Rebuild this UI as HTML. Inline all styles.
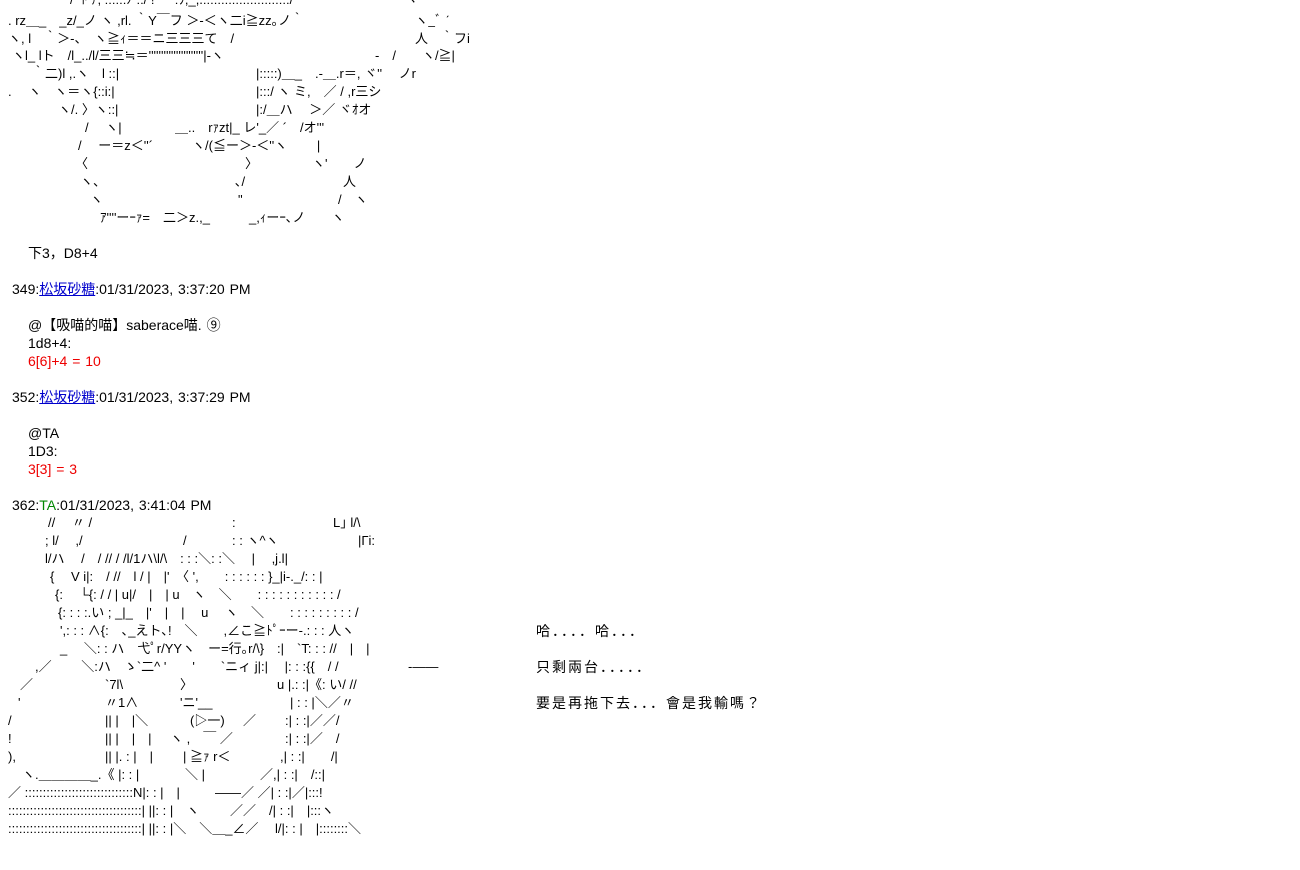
<!DOCTYPE html>
<html><head><meta charset="utf-8"><style>
html,body{margin:0;padding:0;background:#fff;width:1300px;height:870px;overflow:hidden}
body{position:relative;font-family:"Liberation Sans","Noto Sans CJK JP",sans-serif;font-size:14px;color:#000}
.l{position:absolute;white-space:pre;line-height:18px;height:18px}
.a{font-size:13px;letter-spacing:0px}
.t{word-spacing:1px}
.d{letter-spacing:2px}
a{color:#0000cc;text-decoration:underline}
.r{color:#e00}
.g{color:#080}
</style></head><body>
<!-- top art -->
<div class="l a" style="left:70px;top:-9px">/  ﾄ ｱ, ::::::ﾉ ::/ ! ｀ :ﾌ,_,.::::::::::::::::::::::::/</div>
<div class="l a" style="left:405px;top:-9px">ヽ</div>
<div class="l a" style="left:8px;top:12px">. rz＿_　_z/_ノ ヽ ,rl. ｀Y￣フ ＞-＜ヽ二i≧zz｡ノ｀</div>
<div class="l a" style="left:415px;top:12px">ヽ_ﾞ ˊ</div>
<div class="l a" style="left:8px;top:30px">ヽ, l　｀＞-、　ヽ≧ｨ＝＝ニ三三三て　/</div>
<div class="l a" style="left:415px;top:30px">人　｀フi</div>
<div class="l a" style="left:12px;top:47px">ヽl_ lト　/l_../l/三三≒＝''''''''''''''''''''''|-ヽ</div>
<div class="l a" style="left:375px;top:47px">-　/　　ヽ/≧|</div>
<div class="l a" style="left:32px;top:65px">｀二)l ,.ヽ　l ::|</div>
<div class="l a" style="left:256px;top:65px">|:::::)＿_　.-＿.r＝, ヾ''　 ノr</div>
<div class="l a" style="left:8px;top:83px">.　 ヽ　ヽ＝ヽ{::i:|</div>
<div class="l a" style="left:256px;top:83px">|:::/ ヽ ミ,　／ / ,r三シ</div>
<div class="l a" style="left:58px;top:101px">ヽ/. 〉ヽ::|</div>
<div class="l a" style="left:256px;top:101px">|:/＿ハ　 ＞／ ヾｵオ</div>
<div class="l a" style="left:85px;top:119px">/　 ヽ|</div>
<div class="l a" style="left:175px;top:119px">＿..　rｧzt|_ レ'_／ ´　/オ'''</div>
<div class="l a" style="left:78px;top:137px">/　 ー＝z＜''´　　　ヽ/(≦ー＞-＜''ヽ　　 |</div>
<div class="l a" style="left:75px;top:155px">〈</div>
<div class="l a" style="left:245px;top:155px">〉</div>
<div class="l a" style="left:312px;top:155px">ヽ'　　ノ</div>
<div class="l a" style="left:80px;top:173px">ヽ、</div>
<div class="l a" style="left:235px;top:173px">､/</div>
<div class="l a" style="left:343px;top:173px">人</div>
<div class="l a" style="left:90px;top:191px">ヽ</div>
<div class="l a" style="left:238px;top:191px">"</div>
<div class="l a" style="left:338px;top:191px">/　ヽ</div>
<div class="l a" style="left:100px;top:209px">ｱ''''ーｰｧ=　二＞z.,_　　　_,ｨーｰ､ノ　　ヽ</div>

<div class="l t" style="left:28px;top:244px">下3，D8+4</div>
<div class="l t" style="left:12px;top:280px">349:<a>松坂砂糖</a>:01/31/2023, 3:37:20 PM</div>
<div class="l t" style="left:28px;top:316px">@【吸喵的喵】saberace喵. ⑨</div>
<div class="l t" style="left:28px;top:334px">1d8+4:</div>
<div class="l r t" style="left:28px;top:352px">6[6]+4 = 10</div>
<div class="l t" style="left:12px;top:388px">352:<a>松坂砂糖</a>:01/31/2023, 3:37:29 PM</div>
<div class="l t" style="left:28px;top:424px">@TA</div>
<div class="l t" style="left:28px;top:442px">1D3:</div>
<div class="l r t" style="left:28px;top:460px">3[3] = 3</div>
<div class="l t" style="left:12px;top:496px">362:<span class="g">TA</span>:01/31/2023, 3:41:04 PM</div>

<!-- bottom art -->
<div class="l a" style="left:48px;top:514px">//　 〃 /</div>
<div class="l a" style="left:232px;top:514px">:</div>
<div class="l a" style="left:333px;top:514px">L｣ l/\</div>
<div class="l a" style="left:45px;top:532px">; l/　 ,/</div>
<div class="l a" style="left:183px;top:532px">/</div>
<div class="l a" style="left:232px;top:532px">: : ヽ^ヽ</div>
<div class="l a" style="left:358px;top:532px">|Γi:</div>
<div class="l a" style="left:45px;top:550px">l/ハ　 /　/ // / /l/1ハ\l/\　: : :＼: :＼　 |　 ,j.l|</div>
<div class="l a" style="left:50px;top:568px">{　 V i|:　/ //　l / |　|'　〈 ',　　: : : : : : }_|i-._/: : |</div>
<div class="l a" style="left:55px;top:586px">{:　 └{: / / | u|/　|　| u　ヽ　＼　　: : : : : : : : : : : /</div>
<div class="l a" style="left:58px;top:604px">{: : : :.い ; _|_　|'　|　|　 u　 ヽ　＼　　: : : : : : : : : /</div>
<div class="l a" style="left:60px;top:622px">',: : : ∧{:　､_えト､!　＼　　,∠こ≧ﾄﾟｰー-.: : : 人ヽ</div>
<div class="l a" style="left:60px;top:640px">_　 ＼: : ハ　弋ﾟr/YYヽ　ー=行｡r/\}　:|　`T: : : //　|　|</div>
<div class="l a" style="left:35px;top:658px">,／　　 ＼:ハ　ゝ`二^ '　　'　　`ニィ j|:|　 |: : :{{　/ /</div>
<div class="l a" style="left:408px;top:658px">-――</div>
<div class="l a" style="left:20px;top:676px">／</div>
<div class="l a" style="left:105px;top:676px">`7l\</div>
<div class="l a" style="left:180px;top:676px">〉</div>
<div class="l a" style="left:277px;top:676px">u |.: :|《: い/ //</div>
<div class="l a" style="left:18px;top:694px">'</div>
<div class="l a" style="left:105px;top:694px">〃1∧</div>
<div class="l a" style="left:180px;top:694px">'ニ'__</div>
<div class="l a" style="left:290px;top:694px">| : : |＼／〃</div>
<div class="l a" style="left:8px;top:712px">/</div>
<div class="l a" style="left:105px;top:712px">|| |　|＼</div>
<div class="l a" style="left:190px;top:712px">(▷一)</div>
<div class="l a" style="left:243px;top:712px">／</div>
<div class="l a" style="left:285px;top:712px">:| : :|／／/</div>
<div class="l a" style="left:8px;top:730px">!</div>
<div class="l a" style="left:105px;top:730px">|| |　|　|</div>
<div class="l a" style="left:170px;top:730px">ヽ ,　￣ ／</div>
<div class="l a" style="left:285px;top:730px">:| : :|／　/</div>
<div class="l a" style="left:8px;top:748px">),</div>
<div class="l a" style="left:105px;top:748px">|| |. : |　|</div>
<div class="l a" style="left:183px;top:748px">| ≧ｧ r＜</div>
<div class="l a" style="left:280px;top:748px">,| : :|　　/|</div>
<div class="l a" style="left:22px;top:766px">ヽ.＿＿＿＿_.《 |: : |</div>
<div class="l a" style="left:185px;top:766px">＼ |</div>
<div class="l a" style="left:260px;top:766px">／,| : :|　/::|</div>
<div class="l a" style="left:8px;top:784px">／ ::::::::::::::::::::::::::::::N|: : |　|</div>
<div class="l a" style="left:215px;top:784px">――／ ／| : :|／|:::!</div>
<div class="l a" style="left:8px;top:802px">:::::::::::::::::::::::::::::::::::::| ||: : |　ヽ</div>
<div class="l a" style="left:230px;top:802px">／／　/| : :|　|:::ヽ</div>
<div class="l a" style="left:8px;top:820px">:::::::::::::::::::::::::::::::::::::| ||: : |＼　＼＿_∠／　 l/|: : |　|::::::::＼</div>

<!-- dialogue -->
<div class="l d" style="left:536px;top:622px">哈．．．．哈．．．</div>
<div class="l d" style="left:536px;top:658px">只剩兩台．．．．．</div>
<div class="l d" style="left:536px;top:694px">要是再拖下去．．．會是我輸嗎？</div>
</body></html>
